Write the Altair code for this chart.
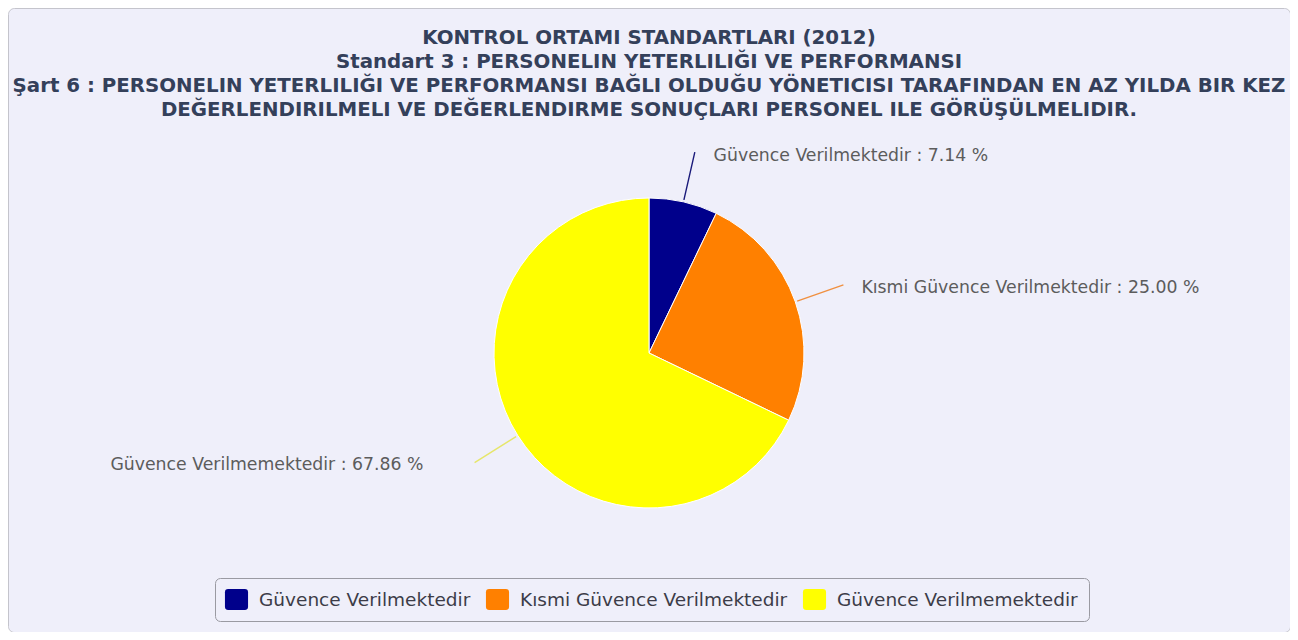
import altair as alt
import pandas as pd

categories = ["Güvence Verilmektedir", "Kısmi Güvence Verilmektedir", "Güvence Verilmemektedir"]
values = [7.14, 25.00, 67.86]
colors = ["#00008B", "#FF8000", "#FFFF00"]
connector_colors = ["#1a1a7a", "#f09040", "#e6e66a"]
title_lines = [
    "KONTROL ORTAMI STANDARTLARI (2012)",
    "Standart 3 : PERSONELIN YETERLILIĞI VE PERFORMANSI",
    "Şart 6 : PERSONELIN YETERLILIĞI VE PERFORMANSI BAĞLI OLDUĞU YÖNETICISI TARAFINDAN EN AZ YILDA BIR KEZ",
    "DEĞERLENDIRILMELI VE DEĞERLENDIRME SONUÇLARI PERSONEL ILE GÖRÜŞÜLMELIDIR.",
]

df = pd.DataFrame({"order": list(range(len(categories))), "category": categories, "value": values})

CX, CY = 641, 345
LABEL_COLOR = "#5c5c5c"
FONT = "DejaVu Sans"

theta_scale = alt.Scale(domain=[0, 100], range=[0, 6.283185307179586])
color_scale = alt.Scale(domain=categories, range=colors)

rounded_square = ("M-0.8,-1 L0.8,-1 Q1.1,-1 1.1,-0.7 L1.1,0.7 Q1.1,1 0.8,1 "
                  "L-0.8,1 Q-1.1,1 -1.1,0.7 L-1.1,-0.7 Q-1.1,-1 -0.8,-1 Z")

base = alt.Chart(df).transform_window(
    cum="sum(value)", sort=[alt.SortField("order")], frame=[None, 0]
).transform_calculate(
    start="datum.cum - datum.value",
    mid="datum.cum - datum.value / 2",
    side="(datum.cum - datum.value / 2) > 50 ? 'left' : 'right'",
    full="datum.category + ' : ' + format(datum.value, '.2f') + ' %'",
)

center = dict(x=alt.value(CX), y=alt.value(CY))

pie = base.mark_arc(radius=155, stroke="#ffffff", strokeWidth=1).encode(
    theta=alt.Theta("start:Q", stack=None, scale=theta_scale),
    theta2="cum:Q",
    color=alt.Color(
        "category:N",
        scale=color_scale,
        legend=alt.Legend(
            orient="none", legendX=207, legendY=570, direction="horizontal",
            title=None, symbolType=rounded_square, symbolSize=441,
            symbolStrokeWidth=0, symbolOpacity=1,
            labelFont=FONT, labelFontSize=18.5, labelColor="#3c3c48",
            labelLimit=500, labelOffset=12, columnPadding=14, padding=11,
            strokeColor="#9a9aa2", cornerRadius=5, fillColor="#EFEFFA",
        ),
    ),
    **center,
)

conn = base.mark_arc(filled=False, radius=206, radius2=157, strokeWidth=1.4).encode(
    theta=alt.Theta("mid:Q", stack=None, scale=theta_scale),
    theta2="mid:Q",
    stroke=alt.Stroke("category:N", scale=alt.Scale(domain=categories, range=connector_colors), legend=None),
    **center,
)

text_kw = dict(font=FONT, fontSize=17.3, baseline="middle", radius=205, dy=2.5, color=LABEL_COLOR)
theta_txt = alt.Theta("mid:Q", stack=None, scale=theta_scale)

right_labels = base.transform_filter("datum.side == 'right'").mark_text(
    align="left", dx=19, **text_kw
).encode(theta=theta_txt, text="full:N", **center)
left_labels = base.transform_filter("datum.side == 'left'").mark_text(
    align="right", dx=-52, **text_kw
).encode(theta=theta_txt, text="full:N", **center)

chart = alt.layer(pie, conn, right_labels, left_labels).properties(
    width=1282,
    height=624,
    padding=0,
    autosize=alt.AutoSizeParams(type="none"),
    background="#ffffff",
    title=alt.Title(
        title_lines, font=FONT, fontSize=19.8, fontWeight="bold", color="#34405a",
        lineHeight=24, anchor="middle", frame="group", offset=-112,
    ),
).configure_view(
    stroke="#c4c4cc", strokeWidth=1, cornerRadius=6, fill="#EFEFFA"
)

chart.save("out.html", embed_options={"renderer": "svg", "actions": False})
